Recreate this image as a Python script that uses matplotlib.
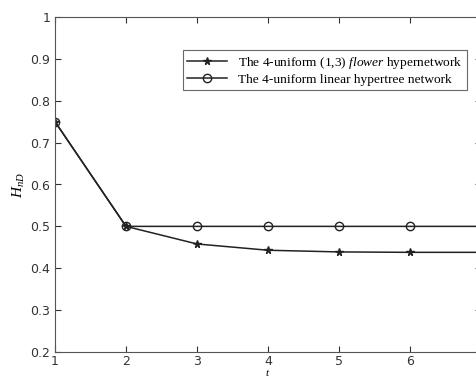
import numpy as np
import matplotlib.pyplot as plt

plt.rcParams['mathtext.fontset'] = 'custom'
plt.rcParams['mathtext.rm'] = 'Liberation Serif'
plt.rcParams['mathtext.it'] = 'Liberation Serif:italic'

t = [1, 2, 3, 4, 5, 6, 7]
h_flower = [0.75, 0.5, 0.458, 0.443, 0.439, 0.438, 0.438]
h_linear = [0.75, 0.5, 0.5, 0.5, 0.5, 0.5, 0.5]

fig = plt.figure(figsize=(4.77, 3.78), dpi=100)
ax = fig.add_axes([55/477, 26/378, 426/477, 335/378])

ax.plot(t, h_flower, color='#222222', lw=1.1, marker='*', ms=5.5,
        markevery=list(range(6)), label=r'The 4-uniform (1,3) $\it{flower}$ hypernetwork')
ax.plot(t, h_linear, color='#222222', lw=1.1, marker='o', ms=6, mfc='none',
        markevery=list(range(6)), label='The 4-uniform linear hypertree network')

ax.set_xlim(1, 7)
ax.set_ylim(0.2, 1)
ax.set_xticks([1, 2, 3, 4, 5, 6])
ax.set_yticks([0.2, 0.3, 0.4, 0.5, 0.6, 0.7, 0.8, 0.9, 1])
ax.set_yticklabels(['0.2', '0.3', '0.4', '0.5', '0.6', '0.7', '0.8', '0.9', '1'])
ax.tick_params(direction='in', top=True, right=True, labelsize=9,
               colors='#333333', length=4)
ax.tick_params(axis='x', pad=2.5)
for s in ax.spines.values():
    s.set_color('#555555')

ax.set_ylabel(r'$H_{nD}$', fontsize=11, labelpad=2)
ax.set_xlabel(r'$t$', fontsize=8, va='bottom')
ax.xaxis.set_label_coords(0.5, -26/335)

leg = ax.legend(loc='upper left', bbox_to_anchor=(0.30, 0.9015),
                prop={'family': 'Liberation Serif', 'size': 9.6},
                frameon=True, fancybox=False, edgecolor='#444444',
                borderaxespad=0, borderpad=0.35, handlelength=3.0,
                labelspacing=0.2)
leg.get_frame().set_linewidth(0.8)

fig.savefig('out.png', dpi=100)
